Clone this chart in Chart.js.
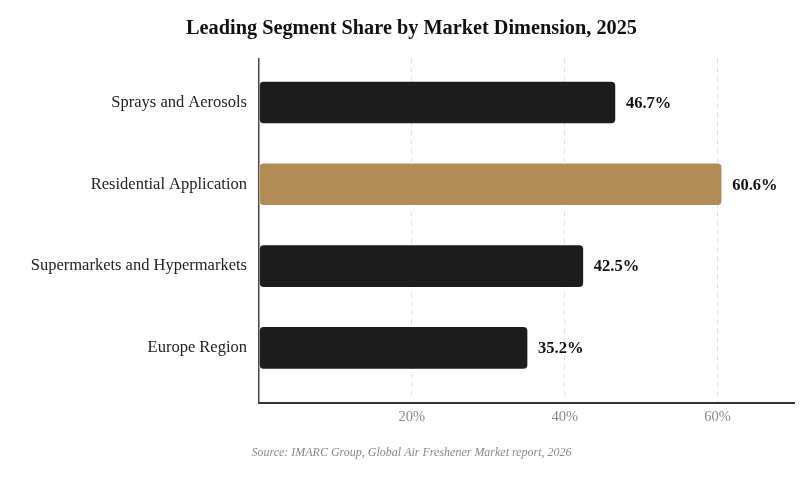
<!DOCTYPE html>
<html>
<head>
<meta charset="utf-8">
<script src="https://cdn.jsdelivr.net/npm/chart.js@4.4.0/dist/chart.umd.min.js"></script>
<style>
  html, body { margin: 0; padding: 0; background: #fff; }
  #wrap { width: 801px; height: 483px; position: relative; }
</style>
</head>
<body>
<div id="wrap"><canvas id="myChart"></canvas></div>
<script>
// chart data
const categories = ["Sprays and Aerosols", "Residential Application", "Supermarkets and Hypermarkets", "Europe Region"]
const shares = [46.7, 60.6, 42.5, 35.2]
const highlight = [false, true, false, false] // residential is the gold one
const xTicks = [20, 40, 60]

const serif = "'Liberation Serif', 'DejaVu Serif', serif"

let points = []
let colors = []
for (let i = 0; i < categories.length; i++) {
    points.push({x: shares[i], y: i})
    colors.push(highlight[i] ? '#b08c57' : '#1c1c1c')
}

// write the value after each bar
const valueLabels = {
    id: 'valueLabels',
    afterDatasetsDraw(chart) {
        const ctx = chart.ctx
        const meta = chart.getDatasetMeta(0)
        ctx.save()
        ctx.font = "bold 16.5px " + serif
        ctx.fillStyle = '#111'
        ctx.textAlign = 'left'
        ctx.textBaseline = 'middle'
        meta.data.forEach(function(bar, i) {
            ctx.fillText(shares[i].toFixed(1) + '%', bar.x + 10, bar.y + 1)
        })
        ctx.restore()
    }
}

new Chart(document.getElementById('myChart'), {
    type: 'bar',
    data: {
        datasets: [{
            data: points,
            backgroundColor: colors,
            borderColor: 'rgba(255,255,255,0.35)',
            borderWidth: 1,
            borderRadius: 5,
            borderSkipped: false,
            barThickness: 43
        }]
    },
    plugins: [valueLabels],
    options: {
        indexAxis: 'y',
        responsive: true,
        maintainAspectRatio: false,
        animation: false,
        layout: { padding: { left: 29, right: 7, top: 10, bottom: 10 } },
        scales: {
            x: {
                type: 'linear',
                min: 0,
                max: 70,
                afterBuildTicks: function(s) { s.ticks = xTicks.map(v => ({value: v})) },
                afterFit: function(s) { s.height = 30 },
                ticks: {
                    color: '#888',
                    padding: 6,
                    font: { family: serif, size: 14.5 },
                    callback: v => v + '%'
                },
                grid: { color: '#e0e0e0', drawTicks: false },
                border: { display: true, color: '#333', width: 2, dash: [5, 4] }
            },
            y: {
                type: 'linear',
                reverse: true,
                offset: false,
                min: -0.54,
                max: 3.67,
                afterBuildTicks: function(s) { s.ticks = categories.map((c, i) => ({value: i})) },
                afterFit: function(s) { s.width = 230 },
                ticks: {
                    color: '#222',
                    padding: 12,
                    font: { family: serif, size: 16.5 },
                    callback: v => categories[v]
                },
                grid: { display: false, drawTicks: false },
                border: { display: true, color: '#444', width: 1.5 }
            }
        },
        plugins: {
            legend: { display: false },
            tooltip: { enabled: false },
            title: {
                display: true,
                text: 'Leading Segment Share by Market Dimension, 2025',
                color: '#111',
                font: { family: serif, size: 20.3, weight: 'bold' },
                padding: { top: 7, bottom: 17 }
            },
            subtitle: {
                display: true,
                position: 'bottom',
                text: 'Source: IMARC Group, Global Air Freshener Market report, 2026',
                color: '#888',
                font: { family: serif, size: 12, style: 'italic' },
                padding: { top: 13, bottom: 13 }
            }
        }
    }
})
</script>
</body>
</html>
